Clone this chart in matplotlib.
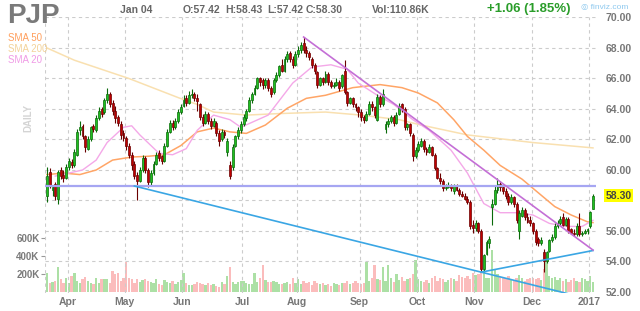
import matplotlib
matplotlib.use("Agg")
import matplotlib.pyplot as plt
import numpy as np
import pandas as pd

plt.rcParams['font.family'] = ['Liberation Sans', 'DejaVu Sans']

# ---- data ----
holidays = ['2016-03-25', '2016-05-30', '2016-07-04', '2016-09-05',
            '2016-11-24', '2016-12-26', '2017-01-02']
dates = pd.bdate_range('2016-03-21', '2017-01-04', freq='C', holidays=holidays)

opens = [
    58.3, 59.9, 58.7, 59.1, 58.1, 60.0, 59.7, 59.5,  # Mar
    60.2, 60.5, 60.3, 61.0, 62.6, 62.9, 62.2, 61.4, 62.0, 62.9, 62.6, 63.4, 64.0, 63.8, 64.6, 65.0,
    64.4, 63.9, 63.5, 63.0, 62.4,  # Apr
    62.1, 61.6, 61.0, 60.4, 59.7, 59.3, 60.0, 60.8, 60.0, 59.2, 59.8, 60.4, 61.1, 60.9, 60.6, 61.6,
    62.5, 63.1, 62.8, 63.2, 63.8,  # May
    64.2, 64.7, 64.4, 64.9, 65.0, 64.7, 64.3, 63.5, 63.1, 63.7, 63.2, 62.9, 63.1, 62.4, 62.0, 62.5,
    61.2, 60.3, 60.2, 61.6, 62.2, 62.6,  # Jun
    63.0, 63.4, 63.9, 64.6, 65.0, 65.4, 66.0, 65.9, 65.6, 65.9, 65.4, 65.1, 65.9, 66.2, 66.9, 66.5,
    67.3, 67.7, 67.3, 66.9,  # Jul
    67.6, 67.9, 68.3, 67.9, 67.7, 67.3, 66.9, 66.4, 65.6, 66.0, 65.8, 66.3, 65.8, 65.5, 65.6, 65.8,
    65.5, 66.5, 65.1, 64.4, 64.7, 64.3, 64.1,  # Aug
    63.8, 63.5, 63.3, 63.7, 64.3, 64.1, 63.3, 64.8, 64.3, 62.7, 63.0, 63.2, 63.5, 63.1, 63.7, 64.3,
    64.0, 62.8, 63.0, 62.3, 60.9,  # Sep
    61.3, 61.6, 61.9, 61.4, 61.2, 61.5, 61.0, 60.1, 59.5, 59.3, 58.8, 58.9, 59.0, 58.6, 59.0, 58.7,
    58.4, 58.3, 58.1, 57.9, 56.4,  # Oct
    56.2, 56.5, 56.0, 53.5, 54.5, 55.2, 57.6, 57.8, 58.7, 59.1, 58.9, 58.6, 58.3, 57.9, 58.2, 57.8,
    56.0, 57.0, 57.4, 56.9, 56.7,  # Nov
    56.5, 56.0, 55.5, 55.2, 54.6, 54.0, 54.7, 55.4, 55.6, 56.3, 56.5, 56.9, 56.4, 56.8, 56.1, 55.9,
    55.8, 56.3, 55.8, 55.9, 56.0,  # Dec
    56.3, 57.42,  # Jan
]
highs = [
    60.2, 60.1, 59.0, 59.2, 60.0, 60.2, 60.0, 60.4,
    60.8, 60.7, 61.4, 62.7, 63.2, 63.0, 62.3, 62.2, 62.9, 63.0, 63.6, 64.1, 64.1, 64.7, 65.4, 65.1,
    64.6, 64.2, 63.6, 63.2, 62.6,
    62.2, 61.8, 61.2, 60.6, 59.9, 60.2, 61.0, 60.9, 60.1, 60.0, 60.6, 61.2, 61.3, 61.0, 61.8, 62.7,
    63.3, 63.3, 63.4, 64.0, 64.3,
    64.9, 64.9, 65.2, 65.3, 65.1, 65.0, 64.4, 63.7, 63.9, 63.8, 63.4, 63.4, 63.2, 62.6, 62.7, 62.6,
    62.1, 60.6, 61.7, 62.3, 62.8, 63.2,
    63.7, 64.0, 64.8, 65.1, 65.6, 66.1, 66.1, 66.0, 66.0, 66.0, 65.5, 66.0, 66.4, 66.9, 67.3, 67.5,
    67.8, 67.8, 67.5, 67.8,
    68.1, 68.4, 68.7, 68.1, 67.8, 67.4, 67.0, 66.5, 66.1, 66.1, 66.5, 66.4, 65.9, 65.8, 66.0, 65.9,
    66.3, 67.2, 65.2, 64.8, 64.8, 64.4, 64.2,
    64.0, 63.6, 63.9, 64.5, 64.5, 64.2, 65.0, 64.9, 65.3, 63.2, 63.4, 63.6, 63.6, 63.8, 64.4, 64.4,
    64.1, 63.1, 63.1, 62.4, 61.5,
    61.9, 62.1, 62.0, 61.5, 61.7, 61.6, 61.1, 60.2, 59.8, 59.4, 59.1, 59.2, 59.1, 59.1, 59.1, 58.8,
    58.6, 58.5, 58.3, 58.0, 56.7,
    56.7, 56.6, 56.1, 54.5, 55.4, 55.7, 58.1, 59.0, 59.5, 59.3, 59.1, 58.8, 58.5, 58.4, 58.3, 57.9,
    57.4, 57.6, 57.5, 57.2, 57.0,
    56.6, 56.1, 55.6, 55.6, 54.8, 54.7, 55.5, 55.8, 56.5, 56.7, 57.0, 57.2, 56.9, 56.9, 56.2, 56.1,
    56.5, 57.2, 56.0, 56.1, 56.2,
    57.3, 58.43,
]
lows = [
    57.9, 58.8, 58.3, 58.0, 57.8, 59.4, 59.2, 59.4,
    60.0, 60.1, 60.2, 60.9, 62.3, 62.0, 61.2, 61.3, 61.9, 62.5, 62.5, 63.3, 63.5, 63.7, 64.4, 64.1,
    63.6, 63.1, 62.9, 62.0, 61.9,
    61.3, 60.8, 60.0, 59.4, 58.0, 59.2, 59.9, 59.8, 58.9, 59.0, 59.7, 60.3, 60.6, 60.4, 60.5, 61.5,
    62.4, 62.6, 62.7, 63.1, 63.7,
    64.1, 64.2, 64.3, 64.7, 64.5, 63.9, 63.3, 62.9, 63.0, 63.0, 62.7, 62.8, 62.2, 61.6, 61.9, 62.1,
    60.9, 59.4, 60.0, 61.5, 62.0, 62.4,
    62.9, 63.2, 63.8, 64.4, 64.9, 65.3, 65.5, 65.3, 65.4, 65.2, 64.8, 65.0, 65.8, 66.1, 66.4, 66.4,
    67.1, 67.1, 66.7, 66.8,
    67.4, 67.7, 67.7, 67.4, 67.2, 66.7, 66.3, 65.4, 65.5, 65.6, 65.7, 65.6, 65.4, 65.4, 65.5, 65.2,
    65.4, 65.0, 64.2, 64.3, 64.1, 63.9, 63.5,
    63.2, 63.1, 63.2, 63.6, 63.9, 63.4, 63.2, 64.1, 64.2, 62.4, 62.8, 63.1, 62.9, 63.0, 63.6, 63.8,
    62.6, 62.6, 62.2, 60.6, 60.8,
    61.2, 61.5, 61.2, 61.0, 61.1, 60.9, 60.0, 59.4, 59.1, 58.6, 58.7, 58.8, 58.6, 58.4, 58.6, 58.3,
    58.2, 58.0, 57.8, 56.1, 55.9,
    56.0, 55.9, 53.3, 53.3, 54.4, 54.9, 56.4, 57.7, 58.5, 58.6, 58.4, 58.1, 57.7, 57.8, 57.6, 56.5,
    55.5, 56.9, 56.7, 56.5, 56.3,
    55.8, 55.1, 55.0, 55.1, 53.3, 53.9, 54.6, 55.3, 55.5, 56.2, 56.4, 56.3, 56.3, 55.9, 55.8, 55.7,
    55.7, 55.7, 55.7, 55.8, 55.8,
    56.2, 57.42,
]
closes = [
    59.6, 59.0, 58.9, 58.3, 59.9, 59.6, 59.5, 60.2,
    60.6, 60.3, 61.2, 62.5, 62.8, 62.2, 61.5, 62.0, 62.8, 62.7, 63.4, 63.9, 63.7, 64.6, 65.0, 64.3,
    63.9, 63.4, 63.1, 62.3, 62.1,
    61.6, 61.0, 60.3, 59.6, 59.3, 60.0, 60.8, 60.0, 59.2, 59.8, 60.4, 61.0, 60.8, 60.6, 61.6, 62.5,
    63.1, 62.8, 63.2, 63.8, 64.1,
    64.6, 64.4, 64.9, 65.0, 64.7, 64.5, 63.5, 63.1, 63.7, 63.2, 62.9, 63.2, 62.4, 61.9, 62.5, 62.3,
    61.9, 59.6, 61.5, 62.2, 62.6, 63.0,
    63.5, 63.9, 64.6, 65.0, 65.4, 66.0, 65.8, 65.6, 65.9, 65.4, 65.0, 65.9, 66.2, 66.8, 66.5, 67.3,
    67.6, 67.3, 66.9, 67.6,
    67.9, 68.2, 67.9, 67.7, 67.4, 66.9, 66.5, 65.6, 66.0, 65.8, 66.3, 65.8, 65.5, 65.6, 65.8, 65.4,
    66.2, 65.1, 64.4, 64.7, 64.3, 64.1, 63.8,
    63.5, 63.3, 63.7, 64.3, 64.1, 63.6, 64.8, 64.3, 65.0, 63.0, 63.2, 63.5, 63.1, 63.6, 64.2, 64.0,
    62.8, 63.0, 62.4, 60.9, 61.3,
    61.7, 61.9, 61.4, 61.2, 61.5, 61.0, 60.1, 59.5, 59.3, 58.8, 58.9, 59.0, 58.8, 59.0, 58.7, 58.4,
    58.3, 58.1, 57.9, 56.3, 56.2,
    56.5, 56.0, 53.5, 54.4, 55.3, 55.5, 57.8, 58.7, 59.1, 58.9, 58.6, 58.3, 57.9, 58.2, 57.8, 56.7,
    57.2, 57.4, 56.9, 56.6, 56.5,
    56.0, 55.3, 55.2, 55.4, 54.0, 54.6, 55.4, 55.6, 56.3, 56.5, 56.8, 56.4, 56.8, 56.0, 55.9, 55.8,
    56.3, 55.8, 55.9, 56.0, 56.1,
    57.24, 58.30,
]
volume_k = [
    215, 100, 110, 120, 280, 145, 100, 160,
    100, 180, 215, 120, 100, 140, 170, 120, 100, 90, 150, 100, 140, 140, 145, 100, 230, 200, 215, 125, 155,
    330, 150, 145, 100, 140, 110, 135, 140, 120, 110, 100, 140, 90, 80, 130, 110, 100, 120, 85, 110, 130,
    215, 100, 80, 80, 90, 110, 100, 90, 75, 100, 80, 90, 70, 55, 110, 90, 180, 280, 110, 90, 110, 120,
    120, 100, 90, 90, 210, 110, 150, 300, 130, 110, 110, 120, 110, 90, 90, 100, 110, 90, 150, 100,
    140, 90, 120, 100, 110, 80, 120, 100, 90, 100, 80, 90, 70, 100, 90, 80, 95, 100, 120, 90, 100, 120, 95,
    90, 100, 330, 120, 150, 300, 140, 130, 280, 120, 300, 150, 110, 200, 130, 170, 120, 140, 160, 200, 350,
    140, 120, 110, 130, 100, 150, 180, 120, 160, 140, 110, 130, 150, 140, 120, 190, 170, 160, 180, 140, 210,
    190, 200, 230, 250, 150, 160, 470, 260, 200, 170, 150, 160, 180, 140, 130, 150, 190, 160, 120, 140, 150,
    160, 140, 150, 130, 250, 350, 180, 150, 170, 130, 150, 120, 140, 110, 130, 150, 120, 110, 150, 140, 120,
    180, 110.86,
]

# moving averages, sampled at bar numbers
sma200_bar = [0, 10, 30, 48, 55, 61, 73, 85, 102, 115, 129, 137, 154, 178, 200]
sma200_val = [68.0, 67.2, 66.0, 64.75, 64.3, 63.8, 63.6, 63.7, 63.8, 63.6, 63.3, 62.95, 62.3, 61.8, 61.45]
sma50_bar = [0, 6, 12, 18, 24, 31, 37, 43, 49, 55, 61, 67, 73, 80, 88, 95, 102, 112, 122, 130, 136,
             143, 149, 154, 160, 166, 174, 180, 186, 192, 198, 200]
sma50_val = [59.7, 59.8, 59.7, 60.0, 60.65, 60.85, 60.9, 61.0, 61.6, 62.5, 62.75, 62.5, 62.4, 62.95,
             64.05, 64.7, 64.9, 65.4, 65.6, 65.4, 65.05, 64.4, 63.3, 62.2, 61.3, 60.3, 59.4, 58.5,
             57.6, 57.05, 56.6, 56.55]
sma20_bar = [3, 13, 18, 22, 28, 31, 34, 41, 46, 51, 55, 61, 67, 71, 81, 90, 97, 104, 110, 114, 121,
             127, 134, 140, 148, 154, 160, 166, 172, 178, 184, 190, 196, 200]
sma20_val = [59.6, 60.0, 60.65, 61.8, 62.8, 62.9, 62.3, 61.1, 61.0, 61.4, 62.6, 63.6, 63.3, 62.8, 63.6,
             65.7, 66.75, 66.9, 66.6, 65.7, 64.9, 64.3, 63.3, 62.6, 61.3, 59.8, 57.8, 57.2, 57.2,
             57.05, 56.5, 56.3, 56.3, 56.7]

# drawn trendlines: (bar, price) end points
support_level = 58.95
lower_trend = [(32, 58.95), (200, 51.48)]
rising_trend = [(159, 53.3), (200, 54.72)]
falling_trend = [(94, 68.72), (200, 54.75)]

price_ticks = [52, 54, 56, 58, 60, 62, 64, 66, 68, 70]
vol_ticks = [200, 400, 600]

# ---- figure ----
W, H = 640, 311
fig = plt.figure(figsize=(W / 100, H / 100), dpi=100)
rect = [45 / W, 1 - 293 / H, (596 - 45) / W, (293 - 17) / H]
axv = fig.add_axes(rect)
ax = fig.add_axes(rect, sharex=axv)
ax.set_facecolor('none')

x = np.arange(len(dates))
o = np.array(opens)
h = np.array(highs)
l = np.array(lows)
c = np.array(closes)
up = c >= o

# volume
vcol = np.where(up, '#ace0a5', '#fbbcbc')
axv.bar(x, np.array(volume_k) * 1000, width=0.85, color=vcol, linewidth=0)
axv.set_ylim(-11100, 275 * 11100)
axv.set_yticks([v * 1000 for v in vol_ticks])
axv.set_yticklabels([f'{v}K' for v in vol_ticks])
axv.tick_params(axis='y', length=3, width=0.8, color='#999999', labelsize=7,
                labelcolor='#7a7a7a', pad=1)
for t in axv.get_yticklabels():
    t.set_fontweight('bold')
axv.tick_params(axis='x', bottom=False, labelbottom=False)
for s in axv.spines.values():
    s.set_visible(False)

# grid
grid_kw = dict(color='#cccccc', lw=0.8, ls=(0, (3, 3)), zorder=0)
for p in price_ticks[1:]:
    ax.axhline(p, **grid_kw)
month_start = [i for i in range(1, len(dates)) if dates[i].month != dates[i - 1].month]
ax.axvline(-0.7, **grid_kw)
for i in month_start:
    ax.axvline(i - 0.5, **grid_kw)

# moving averages
ax.plot(sma200_bar, sma200_val, color='#f9e0b0', lw=1.1, zorder=2)
ax.plot(sma50_bar, sma50_val, color='#ffa566', lw=1.1, zorder=2)
ax.plot(sma20_bar, sma20_val, color='#f4a8e8', lw=1.0, zorder=2)

# candles
ccol = np.where(up, '#1fbf1f', '#c00000')
ecol = np.where(up, '#0a6a0a', '#6a0000')
ax.vlines(x, l, h, colors=ecol, lw=0.8, zorder=3)
body = np.maximum(np.abs(c - o), 0.06)
ax.bar(x, body, bottom=np.minimum(o, c), width=0.7, color=ccol, edgecolor=ecol,
       linewidth=0.5, zorder=4)

# trendlines
ax.axhline(support_level, color='#a6a6f2', lw=1.6, zorder=5)
for pts, col in [(lower_trend, '#3aa6e4'), (rising_trend, '#3aa6e4'), (falling_trend, '#c46fd6')]:
    ax.plot([pts[0][0], pts[1][0]], [pts[0][1], pts[1][1]], color=col, lw=1.2, zorder=5)

ax.set_xlim(-0.75, 201.1)
ax.set_ylim(52 - 1 / 15.25, 52 + 275 / 15.25)
ax.yaxis.tick_right()
# 58.00 sits under the last-price tag, so its label is left out
ax.set_yticks(price_ticks)
ax.set_yticklabels(['' if p == 58 else f'{p:.2f}' for p in price_ticks])
ax.tick_params(axis='y', length=0, labelsize=7.5, labelcolor='#777777', pad=7)
for t in ax.get_yticklabels():
    t.set_fontweight('bold')
ax.set_xticks([i - 0.5 for i in month_start])
ax.set_xticklabels([d.strftime('%b') if d.month != 1 else str(d.year) for d in dates[month_start]])
ax.tick_params(axis='x', length=0, labelsize=7.5, labelcolor='#777777', pad=3)
for t in ax.get_xticklabels():
    t.set_fontweight('bold')
for s in ax.spines.values():
    s.set_visible(False)

# last price tag
ax.annotate(f'{closes[-1]:.2f}', xy=(1, closes[-1]), xycoords=('axes fraction', 'data'),
            xytext=(7, 0), textcoords='offset points', va='center', ha='left',
            fontsize=7.5, fontweight='bold', color='#444444',
            bbox=dict(boxstyle='square,pad=0.15', fc='#ffff00', ec='none'))

# header texts
def px(xp, yp):
    return xp / W, 1 - yp / H

fig.text(*px(7, 16), 'PJP', fontsize=20, fontweight='bold', color='#7a7a7a', va='center')
fig.text(*px(120, 10), 'Jan 04', fontsize=7.5, fontweight='bold', color='#666666', va='center')
hdr = [(183, f'O:{opens[-1]:.2f}'), (225, f'H:{highs[-1]:.2f}'), (267, f'L:{lows[-1]:.2f}'),
       (306, f'C:{closes[-1]:.2f}'), (372, f'Vol:{volume_k[-1]:.2f}K')]
for xp, s in hdr:
    fig.text(*px(xp, 10), s, fontsize=7.5, fontweight='bold', color='#666666', va='center')
chg = closes[-1] - closes[-2]
fig.text(*px(487, 9), f'+{chg:.2f} ({chg / closes[-2] * 100:.2f}%)', fontsize=9.5,
         fontweight='bold', color='#2a9d2a', va='center')
fig.text(*px(581, 8), '◎ finviz.com', fontsize=6, color='#8ec9ef', va='center')
fig.text(*px(8, 38), 'SMA 50', fontsize=7, color='#ff9f5c', va='center')
fig.text(*px(8, 49), 'SMA 200', fontsize=7, color='#f3d39a', va='center')
fig.text(*px(8, 60), 'SMA 20', fontsize=7, color='#f09be6', va='center')
fig.text(*px(28, 118), 'DAILY', fontsize=7, fontweight='bold', color='#d4d4d4',
         rotation=90, va='center', ha='center')

fig.savefig('out.png', dpi=100)
